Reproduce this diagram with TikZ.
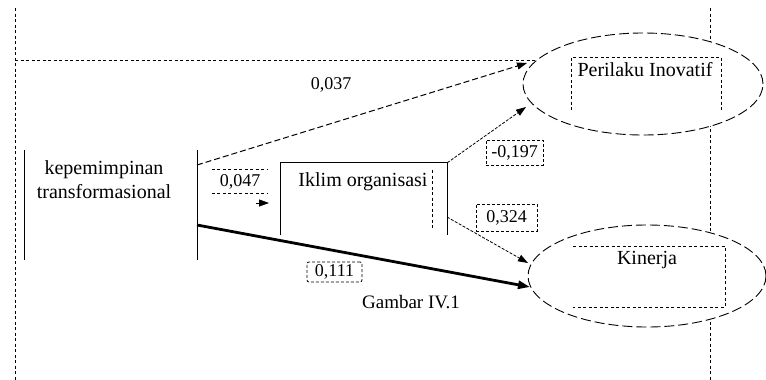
\documentclass[tikz,border=0pt]{standalone}
\usepackage{fontspec}
\setmainfont{Liberation Serif}
\usetikzlibrary{arrows.meta,shapes.geometric}
\tikzset{
  frameline/.style={line width=0.9pt, dash pattern=on 3pt off 2.5pt},
  oval/.style={ellipse, draw, fill=white, line width=0.9pt, dash pattern=on 10pt off 4pt},
  txt/.style={font=\fontsize{20}{24}\selectfont, inner sep=0pt, align=center},
  coef/.style={font=\fontsize{18}{20}\selectfont, inner sep=0pt},
  coefbox/.style={draw, line width=0.8pt, dash pattern=on 3pt off 2pt},
  dotbox/.style={line width=0.9pt, dash pattern=on 3pt off 2.5pt},
  side/.style={line width=1pt},
  tip/.style={-{Triangle[length=10pt,width=7pt]}},
  pathdash/.style={tip, line width=1pt, dash pattern=on 6pt off 3pt},
  pathfine/.style={tip, line width=0.8pt, dash pattern=on 3pt off 1.5pt},
  paththick/.style={-{Triangle[length=12pt,width=8pt]}, line width=2.8pt},
}
\begin{document}
\begin{tikzpicture}[x=1pt,y=-1pt]
\useasboundingbox (0,0) rectangle (766,380);

% outer dashed frame
\draw[frameline] (15,8) -- (15,380);
\draw[frameline] (15,60) -- (560,60);
\draw[frameline] (710,8) -- (710,380);

% exogenous variable (two vertical sides only)
\node[minimum width=172pt, minimum height=110pt, inner sep=0pt] (kt) at (111,205) {};
\draw[side] (kt.north west) -- (kt.south west);
\draw[side] (kt.north east) -- (kt.south east);
\node[txt] (ktlabel) at (104,180) {kepemimpinan\\transformasional};

% mediator box (top and sides)
\node[minimum width=166pt, minimum height=72pt, inner sep=0pt] (ik) at (364,199) {};
\draw[side] (ik.south west) -- (ik.north west) -- (ik.north east) -- (ik.south east);
\node[txt] (iklabel) at (363,182) {Iklim organisasi};
\draw[dotbox] (432,170) -- (432,228);

% outcome ellipses
\node[oval, minimum width=240pt, minimum height=102pt] (pi) at (643,84) {};
\draw[dotbox] (571,110) -- (571,57) -- (721,57) -- (721,110);
\node[txt] (pilabel) at (645,70) {Perilaku Inovatif};

\node[oval, minimum width=238pt, minimum height=102pt] (kn) at (647,276) {};
\draw[dotbox] (573,246) -- (725,246) -- (725,307) -- (573,307);
\node[txt] (knlabel) at (647,260) {Kinerja};

% connector end points
\coordinate (s037) at (197,165);
\coordinate (e037) at (527,63);
\coordinate (e197) at (526,107);
\coordinate (s324) at (447,217);
\coordinate (e324) at (528,263);
\coordinate (s111) at (197,225);
\coordinate (e111) at (530,287);
\coordinate (s047) at (256,203);
\coordinate (e047) at (269,203);

% paths
\draw[pathdash] (s037) -- (e037);
\draw[pathfine] (ik.north east) -- (e197);
\draw[pathfine] (s324) -- (e324);
\draw[paththick] (s111) -- (e111);
\draw[tip, line width=0.8pt] (s047) -- (e047);

% coefficients
\node[coef] (c037) at (331,85) {0,037};
\node[coef, minimum width=56pt, minimum height=23pt] (c047) at (240,181.5) {0,047};
\draw[dotbox] (c047.north west) -- (c047.north east);
\draw[dotbox] (c047.south west) -- (c047.south east);
\node[coef, coefbox, minimum width=57pt, minimum height=25pt] (c197) at (514.5,152.5) {-0,197};
\node[coef, coefbox, minimum width=61pt, minimum height=27pt] (c324) at (506.5,217.5) {0,324};
\node[coef, coefbox, rounded corners=2pt, minimum width=55pt, minimum height=20pt] (c111) at (334.5,272) {0,111};

% caption
\node[txt, font=\fontsize{19}{22}\selectfont] (cap) at (411,302) {Gambar IV.1};
\end{tikzpicture}
\end{document}
